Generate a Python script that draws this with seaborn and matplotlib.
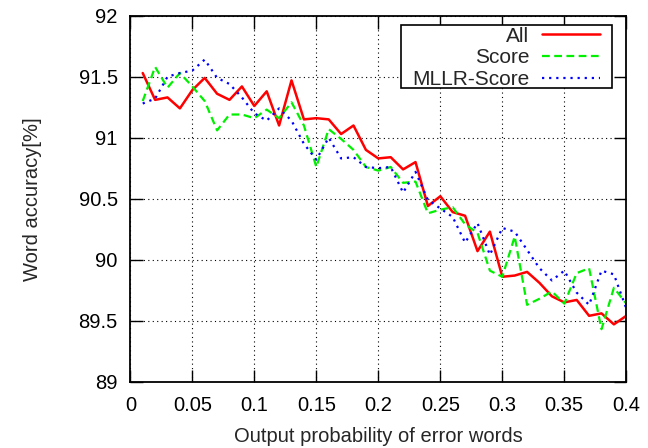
import matplotlib
matplotlib.use("Agg")
import matplotlib.pyplot as plt
from matplotlib.patches import Rectangle
import seaborn as sns
import pandas as pd

# ---- data ----
prob = [0.01, 0.02, 0.03, 0.04, 0.05, 0.06, 0.07, 0.08, 0.09, 0.10,
        0.11, 0.12, 0.13, 0.14, 0.15, 0.16, 0.17, 0.18, 0.19, 0.20,
        0.21, 0.22, 0.23, 0.24, 0.25, 0.26, 0.27, 0.28, 0.29, 0.30,
        0.31, 0.32, 0.33, 0.34, 0.35, 0.36, 0.37, 0.38, 0.39, 0.40]

acc_all = [91.53, 91.31, 91.33, 91.24, 91.39, 91.49, 91.36, 91.31, 91.42, 91.26,
           91.38, 91.10, 91.47, 91.15, 91.16, 91.15, 91.03, 91.10, 90.90, 90.83,
           90.84, 90.74, 90.80, 90.44, 90.52, 90.39, 90.36, 90.07, 90.23, 89.86,
           89.87, 89.90, 89.81, 89.70, 89.65, 89.67, 89.54, 89.56, 89.47, 89.54]

acc_score = [91.30, 91.58, 91.41, 91.53, 91.42, 91.30, 91.06, 91.19, 91.19, 91.16,
             91.23, 91.16, 91.29, 91.10, 90.76, 91.07, 90.99, 90.90, 90.76, 90.73,
             90.76, 90.63, 90.64, 90.38, 90.41, 90.43, 90.29, 90.22, 89.91, 89.86,
             90.19, 89.63, 89.68, 89.74, 89.64, 89.89, 89.93, 89.43, 89.77, 89.64]

acc_mllr = [91.28, 91.32, 91.50, 91.53, 91.55, 91.64, 91.49, 91.44, 91.33, 91.20,
            91.14, 91.24, 91.14, 90.95, 90.82, 91.00, 90.83, 90.84, 90.76, 90.75,
            90.76, 90.55, 90.72, 90.49, 90.42, 90.35, 90.14, 90.30, 90.04, 90.26,
            90.23, 90.08, 89.93, 89.83, 89.91, 89.73, 89.63, 89.91, 89.88, 89.60]

series_names = ["All", "Score", "MLLR-Score"]
x_ticks = [0, 0.05, 0.1, 0.15, 0.2, 0.25, 0.3, 0.35, 0.4]
x_ticklabels = ["0", "0.05", "0.1", "0.15", "0.2", "0.25", "0.3", "0.35", "0.4"]
y_ticks = [89, 89.5, 90, 90.5, 91, 91.5, 92]
y_ticklabels = ["89", "89.5", "90", "90.5", "91", "91.5", "92"]

# ---- style ----
sns.set_style("ticks")
plt.rcParams["font.family"] = ["Liberation Sans", "DejaVu Sans"]
plt.rcParams["font.size"] = 14.5

fig = plt.figure(figsize=(6.48, 4.48), dpi=100)
ax = fig.add_axes([0.2011, 0.148, 0.7654, 0.817])

styles = [
    dict(color="#ff0000", linewidth=1.8, linestyle="-"),
    dict(color="#00f000", linewidth=1.6, linestyle=(0, (3.5, 2.0))),
    dict(color="#0000ff", linewidth=1.6, linestyle=(0, (1.0, 2.2))),
]
for name, vals, st in zip(series_names, [acc_all, acc_score, acc_mllr], styles):
    df = pd.DataFrame({"x": prob, "y": vals})
    sns.lineplot(data=df, x="x", y="y", ax=ax, label=name, **st)

ax.set_xlim(0, 0.4)
ax.set_ylim(89, 92)
ax.set_xticks(x_ticks)
ax.set_xticklabels(x_ticklabels)
ax.set_yticks(y_ticks)
ax.set_yticklabels(y_ticklabels)

ax.grid(True, color="black", linestyle=(0, (1, 3)), linewidth=0.8)
ax.tick_params(direction="in", length=9, width=1.0, top=True, right=True,
               labelsize=14.5, pad=9, colors="black")
ax.tick_params(axis="x", pad=10)
for sp in ax.spines.values():
    sp.set_linewidth(1.3)
    sp.set_color("black")
    sp.set_visible(True)

ax.set_xlabel("Output probability of error words", fontsize=14.5)
ax.set_ylabel("Word accuracy[%]", fontsize=14.5)
ax.xaxis.set_label_coords(0.5, -0.123)
ax.yaxis.set_label_coords(-0.178, 0.5)

# legend frame drawn as a plain box at the reference position
frame = Rectangle((0.5452, 0.8016), 0.9718 - 0.5452, 0.9754 - 0.8016,
                  transform=ax.transAxes, facecolor="white", edgecolor="black",
                  linewidth=1.2, zorder=4.9, clip_on=False)
ax.add_patch(frame)

leg = ax.legend(loc="upper right", bbox_to_anchor=(0.947, 0.970),
                borderaxespad=0, markerfirst=False, frameon=False,
                fontsize=15, handlelength=2.8, handletextpad=0.6,
                labelspacing=0.13, borderpad=0.0)
leg.set_zorder(5)
for t in leg.get_texts():
    t.set_ha("right")
leg._legend_box.align = "right"

fig.savefig("out.png", dpi=100)
